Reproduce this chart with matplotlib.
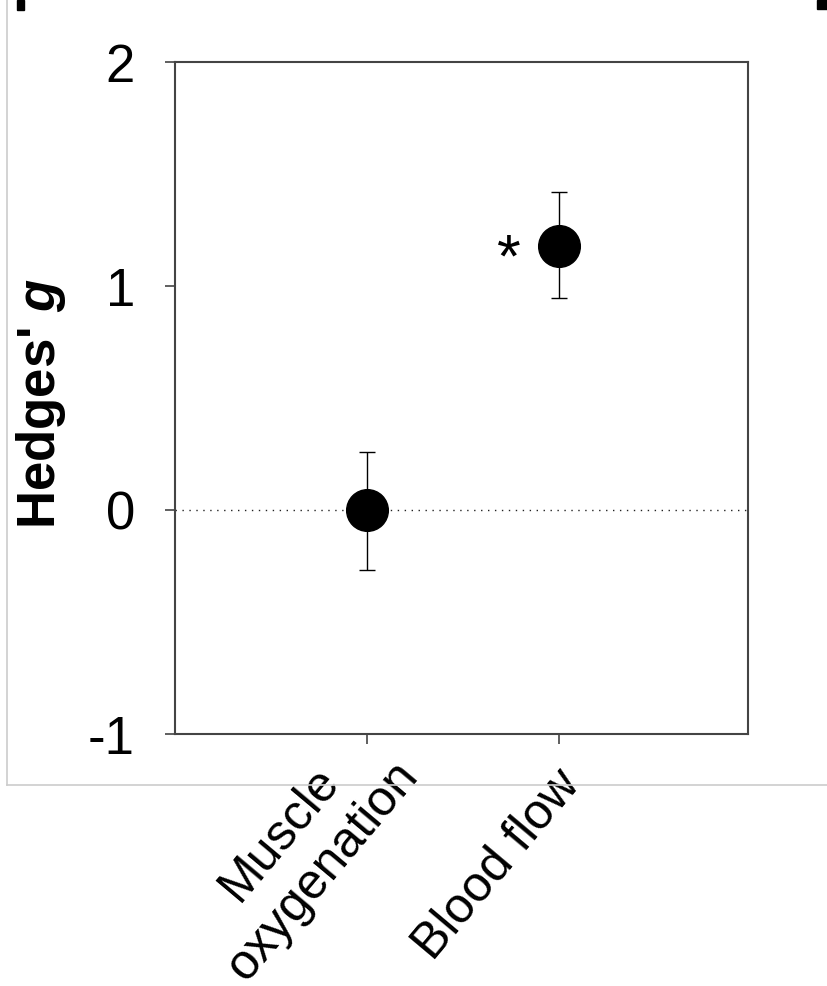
import matplotlib
matplotlib.use("Agg")
import matplotlib.pyplot as plt
from matplotlib.lines import Line2D
from matplotlib.patches import Rectangle

categories = ["Muscle\noxygenation", "Blood flow"]
positions = [1, 2]
hedges_g = [0.0, 1.18]
err_low = [0.27, 0.235]
err_high = [0.26, 0.24]
significant = [False, True]
yticks = [-1, 0, 1, 2]

plt.rcParams['font.family'] = ['Liberation Sans', 'DejaVu Sans']
plt.rcParams['mathtext.fontset'] = 'custom'
plt.rcParams['mathtext.bfit'] = 'Liberation Sans:bold:italic'
plt.rcParams['mathtext.it'] = 'Liberation Sans:italic'
plt.rcParams['mathtext.rm'] = 'Liberation Sans'
plt.rcParams['mathtext.bf'] = 'Liberation Sans:bold'

fig = plt.figure(figsize=(8.27, 9.86), dpi=100)
ax = fig.add_axes([175/827, 1-734/986, (748-175)/827, (734-62)/986])

ax.axhline(0, color='#222222', linestyle=(0, (1, 4)), linewidth=1.0, zorder=1)
ax.errorbar(positions, hedges_g, yerr=[err_low, err_high], fmt='o', color='black',
            markersize=30, ecolor='black', elinewidth=1.0, capsize=6, capthick=1.0, zorder=3)
for x, y, s in zip(positions, hedges_g, significant):
    if s:
        ax.text(x - 0.26, y - 0.07, '*', fontsize=44, ha='center', va='center', color='black')

ax.set_xlim(0, 2.985)
ax.set_ylim(-1, 2)
ax.set_yticks(yticks)
ax.set_yticklabels([str(t) for t in yticks], fontsize=38)
ax.set_xticks(positions)
ax.set_xticklabels([])
ax.tick_params(axis='both', direction='out', length=7.2, width=1.2, color='#444444')
ax.tick_params(axis='y', pad=21.6)
for sp in ax.spines.values():
    sp.set_color('#444444')
    sp.set_linewidth(1.5)

# category labels (rotated)
offsets_px = [(-18, 18), (-5, -28)]
for pos, lab, off in zip(positions, categories, offsets_px):
    ax.annotate(lab, xy=(pos, 0), xycoords=ax.get_xaxis_transform(),
                xytext=off, textcoords='offset pixels', fontsize=36,
                rotation=50, ha='right', va='top', rotation_mode='anchor',
                multialignment='center', linespacing=1.3)

ax.set_ylabel("Hedges' $\\mathbfit{g}$", fontsize=38, fontweight='bold')
ax.yaxis.set_label_coords((68-175)/573, (734-403)/672)

# panel frame remnants
fig.add_artist(Line2D([7/827, 7/827], [1, 1-785/986], color='#cccccc', linewidth=1.2))
fig.add_artist(Line2D([7/827, 1], [1-785/986, 1-785/986], color='#cccccc', linewidth=1.2))
fig.add_artist(Rectangle((17/827, 1-10/986), 7/827, 10/986, color='black'))
fig.add_artist(Rectangle((817/827, 1-9/986), 10/827, 9/986, color='black'))

fig.savefig("out.png", dpi=100)
